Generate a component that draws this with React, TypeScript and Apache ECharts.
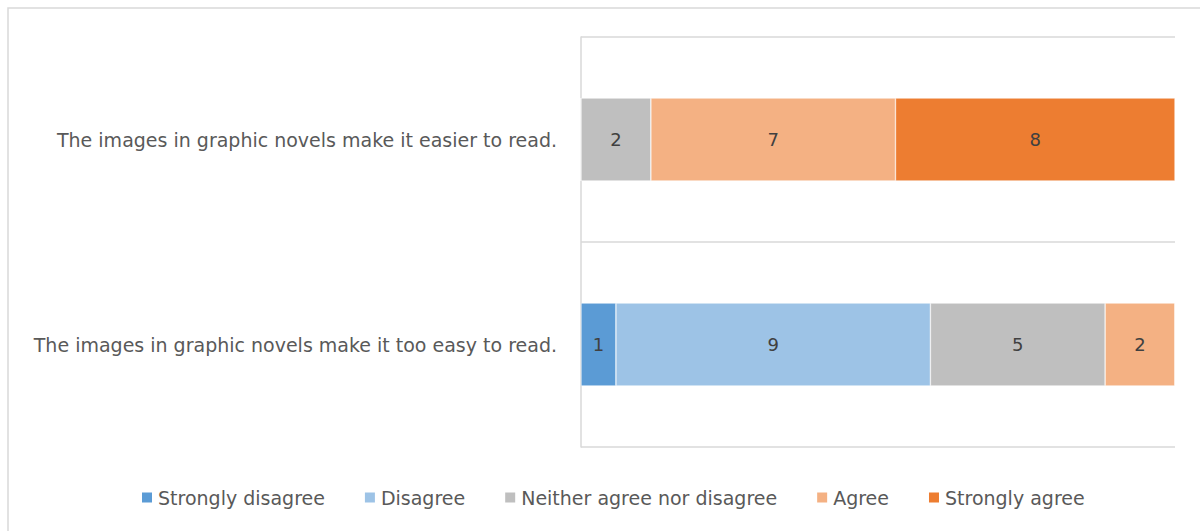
import React, { useEffect, useRef } from "react";
import * as echarts from "echarts";

const categories = [
  "The images in graphic novels make it easier to read.",
  "The images in graphic novels make it too easy to read.",
];
const seriesNames = [
  "Strongly disagree",
  "Disagree",
  "Neither agree nor disagree",
  "Agree",
  "Strongly agree",
];
const stronglyDisagree = [0, 1];
const disagree = [0, 9];
const neither = [2, 5];
const agree = [7, 2];
const stronglyAgree = [8, 0];
const colors = ["#5B9BD5", "#9DC3E6", "#BFBFBF", "#F4B183", "#ED7D31"];

export default function App() {
  const ref = useRef<HTMLDivElement>(null);
  useEffect(() => {
    if (!ref.current) return;
    const chart = echarts.init(ref.current, null, { renderer: "svg" });
    const values = [stronglyDisagree, disagree, neither, agree, stronglyAgree];
    const font = "'DejaVu Sans', 'Noto Sans', sans-serif";
    chart.setOption({
      animation: false,
      textStyle: { fontFamily: font },
      graphic: [
        {
          type: "rect",
          shape: { x: 8, y: 8, width: 1400, height: 800 },
          style: { fill: "none", stroke: "#d9d9d9", lineWidth: 1.5 },
          silent: true,
        },
      ],
      grid: { left: 581, top: 37, width: 594, height: 410, containLabel: false },
      xAxis: {
        type: "value",
        min: 0,
        max: 17,
        axisLabel: { show: false },
        axisLine: { show: false },
        axisTick: { show: false },
        splitLine: { show: false },
      },
      yAxis: {
        type: "category",
        inverse: true,
        data: categories,
        axisLine: { show: true, lineStyle: { color: "#d9d9d9", width: 1.5 } },
        axisTick: { show: false },
        splitLine: { show: true, lineStyle: { color: "#d9d9d9", width: 1.5 } },
        axisLabel: { color: "#595959", fontSize: 19, margin: 24, fontFamily: font },
      },
      legend: {
        data: seriesNames,
        top: 483,
        left: 135,
        itemWidth: 12,
        itemHeight: 12,
        itemGap: 38,
        icon: "rect",
        textStyle: { color: "#595959", fontSize: 19, fontFamily: font },
      },
      series: seriesNames.map((name, i) => ({
        name,
        type: "bar",
        stack: "total",
        barWidth: 83,
        data: values[i],
        itemStyle: { color: colors[i], borderColor: "#ffffff", borderWidth: 0.5 },
        label: {
          show: true,
          position: "inside",
          color: "#404040",
          fontSize: 18,
          fontFamily: font,
          formatter: (p: any) => (p.value ? String(p.value) : ""),
        },
      })),
    });
    return () => chart.dispose();
  }, []);
  return (
    <div
      ref={ref}
      style={{ position: "absolute", left: 0, top: 0, width: 1200, height: 531, background: "#fff" }}
    />
  );
}
